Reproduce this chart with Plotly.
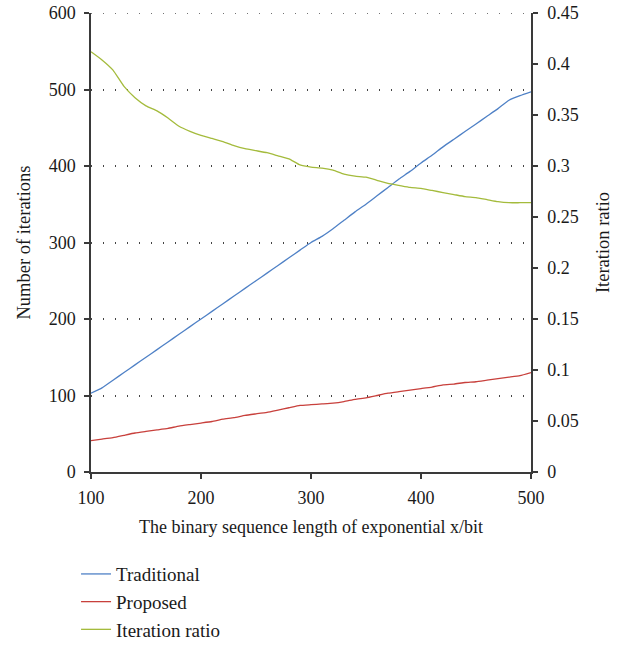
import plotly.graph_objects as go

bits = list(range(100, 501, 10))
traditional = [103, 110, 120, 130, 140, 150, 160, 170, 180, 190,
               200, 210, 220, 230, 240, 250, 260, 270, 280, 290,
               300, 308, 318, 329, 340, 350, 361, 372, 383, 393,
               404, 414, 425, 435, 445, 455, 465, 475, 486, 492, 497]
proposed = [41, 43, 45, 48, 51, 53, 55, 57, 60, 62,
            64, 66, 69, 71, 74, 76, 78, 81, 84, 87,
            88, 89, 90, 92, 95, 97, 100, 103, 105, 107,
            109, 111, 114, 115, 117, 118, 120, 122, 124, 126, 130]
ratio = [0.412, 0.404, 0.394, 0.378, 0.367, 0.359, 0.354, 0.347, 0.339, 0.334,
         0.330, 0.327, 0.324, 0.320, 0.317, 0.315, 0.313, 0.310, 0.307, 0.301,
         0.299, 0.298, 0.296, 0.292, 0.290, 0.289, 0.286, 0.283, 0.281, 0.279,
         0.278, 0.276, 0.274, 0.272, 0.270, 0.269, 0.267, 0.265, 0.264, 0.264, 0.264]

left_ticks = [0, 100, 200, 300, 400, 500, 600]
right_ticks = [0, 0.05, 0.1, 0.15, 0.2, 0.25, 0.3, 0.35, 0.4, 0.45]
right_labels = ["0", "0.05", "0.1", "0.15", "0.2", "0.25", "0.3", "0.35", "0.4", "0.45"]
x_ticks = [100, 200, 300, 400, 500]

FONT = "Liberation Serif"
AX = "#3a3a3a"
GRID = "#444444"
GRID_DASH = "1px,11px"

fig = go.Figure()
fig.add_trace(go.Scatter(x=bits, y=traditional, name="Traditional", mode="lines",
                         line=dict(color="#4f81c6", width=1.3, shape="spline", smoothing=0.4)))
fig.add_trace(go.Scatter(x=bits, y=proposed, name="Proposed", mode="lines",
                         line=dict(color="#c8403c", width=1.3, shape="spline", smoothing=0.4)))
fig.add_trace(go.Scatter(x=bits, y=ratio, name="Iteration ratio", mode="lines", yaxis="y2",
                         line=dict(color="#a4bb3c", width=1.3, shape="spline", smoothing=0.4)))

# top gridline (plotly omits the gridline at the edge of the plot area)
fig.add_shape(type="line", xref="paper", x0=0, x1=1, yref="y",
              y0=left_ticks[-1], y1=left_ticks[-1],
              line=dict(color=GRID, width=1.5, dash=GRID_DASH), layer="below")

fig.update_layout(
    width=620, height=648,
    margin=dict(l=91, r=89, t=13, b=176, autoexpand=False),
    paper_bgcolor="white", plot_bgcolor="white",
    font=dict(family=FONT, size=18, color="#1a1a1a"),
    showlegend=True,
    legend=dict(orientation="v", x=-0.034, xanchor="left", y=-0.181, yanchor="top",
                font=dict(family=FONT, size=19, color="#1a1a1a"),
                itemwidth=30, tracegroupgap=0, bgcolor="rgba(0,0,0,0)"),
    xaxis=dict(range=[100, 500], tickvals=x_ticks, showgrid=False, zeroline=False,
               automargin=False,
               showline=True, linecolor=AX, linewidth=1.5,
               ticks="outside", ticklen=5, tickcolor=AX, tickwidth=1.5,
               ticklabelstandoff=4,
               tickfont=dict(family=FONT, size=18),
               title=dict(text="The binary sequence length of exponential x/bit",
                          font=dict(family=FONT, size=18), standoff=13)),
    yaxis=dict(range=[0, 600], tickvals=left_ticks, zeroline=False, automargin=False,
               showgrid=True, gridcolor=GRID, griddash=GRID_DASH, gridwidth=1.5,
               showline=True, linecolor=AX, linewidth=1.5,
               ticks="outside", ticklen=5, tickcolor=AX, tickwidth=1.5,
               ticklabelstandoff=5, ticklabeloverflow="allow",
               tickfont=dict(family=FONT, size=18),
               title=dict(text="Number of iterations", font=dict(family=FONT, size=18.5), standoff=13)),
    yaxis2=dict(range=[0, 0.45], tickvals=right_ticks, ticktext=right_labels,
                overlaying="y", side="right", showgrid=False, zeroline=False, automargin=False,
                showline=True, linecolor=AX, linewidth=1.5,
                ticks="outside", ticklen=5, tickcolor=AX, tickwidth=1.5,
                ticklabelstandoff=6, ticklabeloverflow="allow",
                tickfont=dict(family=FONT, size=18),
                title=dict(text="Iteration ratio", font=dict(family=FONT, size=18.5), standoff=18)),
)

fig.write_html("out.html", config={"displayModeBar": False},
               post_script="document.body.style.margin='0';")
